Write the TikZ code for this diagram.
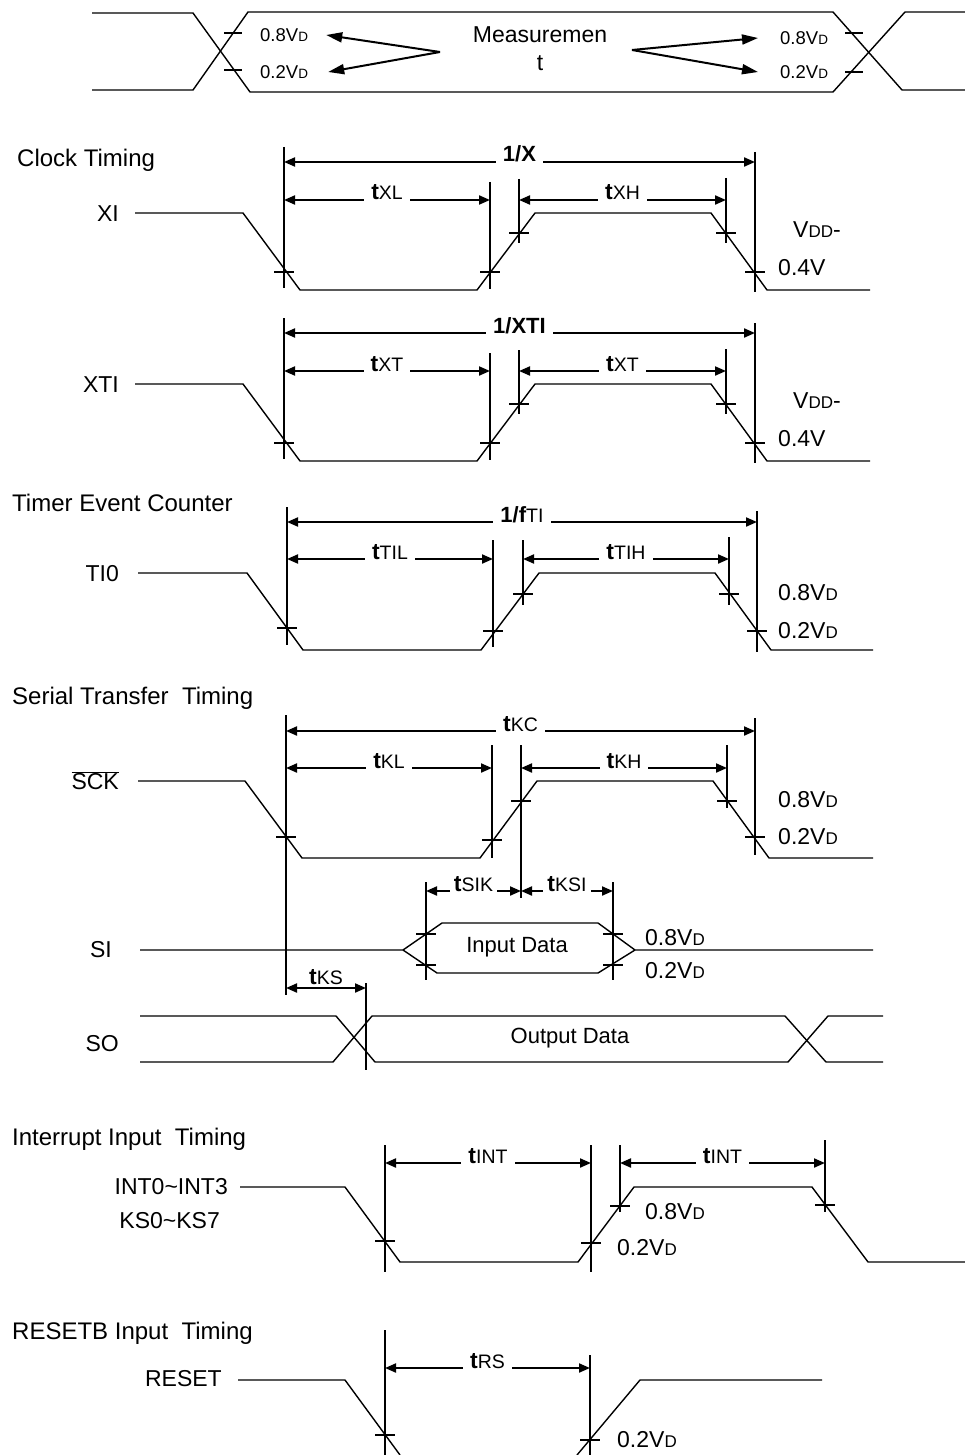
\documentclass[tikz,border=0pt]{standalone}
\usepackage{fontspec}
\setmainfont{Liberation Sans}
\usetikzlibrary{arrows.meta}

\newcommand{\fsz}[1]{\fontsize{#1}{#1}\selectfont}
\newcommand{\tdim}[1]{{\fsz{23}\textbf{t}}{\fsz{19.5}#1}}
\newcommand{\vlev}[1]{#1V{\fsz{17}D}}
\newcommand{\vlevs}[1]{{\fsz{18.5}#1V{\fsz{13.5}D}}}
\newcommand{\vddm}{V{\fsz{17}DD}-}

\tikzset{
  wave/.style={line width=1.4pt},
  guide/.style={line width=1.3pt},
  levmark/.style={line width=1.3pt},
  dimarrow/.style={line width=2pt, {Triangle[length=11pt,width=9pt]}-{Triangle[length=11pt,width=9pt]}},
  ptr/.style={line width=2pt, -{Triangle[length=16pt,width=10pt]}},
  dimtext/.style={fill=white, anchor=base, inner xsep=7pt, inner ysep=3pt, font=\fsz{22}},
  title/.style={anchor=west, inner sep=0pt, font=\fsz{24}},
  signame/.style={anchor=east, inner sep=0pt, font=\fsz{23}},
  level/.style={anchor=west, inner sep=0pt, font=\fsz{23}},
}

\begin{document}
\begin{tikzpicture}[x=1pt,y=-1pt]
  \useasboundingbox (0,0) rectangle (965,1455);

  % Measurement levels
  \draw[wave] (92,13) -- (193,13) -- (250,92) -- (833,92) -- (905,12) -- (965,12);
  \draw[wave] (92,90) -- (193,90) -- (248,12) -- (833,12) -- (902,90) -- (965,90);
  \foreach \tx/\ty in {233/33, 233/70, 854/33, 854/72}
    \draw[levmark] (\tx-9,\ty) -- (\tx+9,\ty);
  \node[level, font=\fsz{18.5}] (lhi) at (260,35) {\vlevs{0.8}};
  \node[level, font=\fsz{18.5}] (llo) at (260,72) {\vlevs{0.2}};
  \node[level, font=\fsz{18.5}] (rhi) at (780,38) {\vlevs{0.8}};
  \node[level, font=\fsz{18.5}] (rlo) at (780,72) {\vlevs{0.2}};
  \node[font=\fsz{23}] (meas) at (540,35) {Measuremen};
  \node[font=\fsz{23}] (meast) at (540,63) {t};
  \coordinate (mL) at (440,52);
  \coordinate (mR) at (632,50);
  \draw[ptr] (mL) -- ([xshift=18pt]lhi.east);
  \draw[ptr] (mL) -- ([xshift=20pt]llo.east);
  \draw[ptr] (mR) -- ([xshift=-22pt]rhi.west);
  \draw[ptr] (mR) -- ([xshift=-22pt]rlo.west);

  % Clock timing
  \node[title] (tclock) at (17,160) {Clock Timing};
  \node[signame] (xi) at (119,214) {XI};
  \draw[wave] (135,213) -- (243,213) -- (300,290) -- (477,290) -- (535,213) -- (711,213) -- (767,290) -- (870,290);
  \draw[guide] (284,147) -- (284,288);
  \draw[guide] (490,182) -- (490,289);
  \draw[guide] (519,179) -- (519,243);
  \draw[guide] (726,178) -- (726,243);
  \draw[guide] (755,152) -- (755,292);
  \draw[dimarrow] (284,162) -- node[dimtext] (fx) {\textbf{1/X}} (755,162);
  \draw[dimarrow] (284,200) -- node[dimtext] (txl) {\tdim{XL}} (490,200);
  \draw[dimarrow] (519,200) -- node[dimtext] (txh) {\tdim{XH}} (726,200);
  \node[level] (xivdd) at (793,230) {\vddm};
  \node[level] (xiv) at (778,268) {0.4V};

  % XTI
  \node[signame] (xti) at (119,385) {XTI};
  \draw[wave] (135,384) -- (243,384) -- (300,461) -- (477,461) -- (535,384) -- (711,384) -- (767,461) -- (870,461);
  \draw[guide] (284,318) -- (284,459);
  \draw[guide] (490,353) -- (490,460);
  \draw[guide] (519,350) -- (519,414);
  \draw[guide] (726,349) -- (726,414);
  \draw[guide] (755,323) -- (755,463);
  \draw[dimarrow] (284,333) -- node[dimtext] (fxt) {\textbf{1/XTI}} (755,333);
  \draw[dimarrow] (284,371) -- node[dimtext] (txtl) {\tdim{XT}} (490,371);
  \draw[dimarrow] (519,371) -- node[dimtext] (txth) {\tdim{XT}} (726,371);
  \node[level] (xtivdd) at (793,401) {\vddm};
  \node[level] (xtiv) at (778,439) {0.4V};

  % Timer event counter
  \node[title] (ttimer) at (12,503) {Timer Event Counter};
  \node[signame] (ti0) at (119,574) {TI0};
  \draw[wave] (138,573) -- (247,573) -- (303,650) -- (481,650) -- (539,573) -- (715,573) -- (771,650) -- (873,650);
  \draw[guide] (287,507) -- (287,645);
  \draw[guide] (493,540) -- (493,647);
  \draw[guide] (523,540) -- (523,605);
  \draw[guide] (729,537) -- (729,605);
  \draw[guide] (757,511) -- (757,652);
  \draw[dimarrow] (287,522) -- node[dimtext] (fti) {\textbf{1/f}{\fsz{19.5}TI}} (757,522);
  \draw[dimarrow] (287,559) -- node[dimtext] (ttil) {\tdim{TIL}} (493,559);
  \draw[dimarrow] (523,559) -- node[dimtext] (ttih) {\tdim{TIH}} (729,559);
  \node[level] (tihi) at (778,593) {\vlev{0.8}};
  \node[level] (tilo) at (778,631) {\vlev{0.2}};

  % Serial transfer
  \node[title] (tserial) at (12,698) {Serial Transfer~ Timing};
  \node[signame] (sck) at (119,781) {$\overline{\hbox{SCK}}$};
  \draw[wave] (138,781) -- (245,781) -- (302,858) -- (480,858) -- (537,781) -- (713,781) -- (769,858) -- (873,858);
  \draw[guide] (286,715) -- (286,995);
  \draw[guide] (492,745) -- (492,858);
  \draw[guide] (521,745) -- (521,898);
  \draw[guide] (727,745) -- (727,808);
  \draw[guide] (755,718) -- (755,855);
  \draw[dimarrow] (286,731) -- node[dimtext] (tkc) {\tdim{KC}} (755,731);
  \draw[dimarrow] (286,768) -- node[dimtext] (tkl) {\tdim{KL}} (492,768);
  \draw[dimarrow] (521,768) -- node[dimtext] (tkh) {\tdim{KH}} (727,768);
  \node[level] (sckhi) at (778,800) {\vlev{0.8}};
  \node[level] (scklo) at (778,837) {\vlev{0.2}};

  % SI
  \node[signame] (si) at (112,950) {SI};
  \draw[wave] (140,950) -- (403,950) -- (442,923) -- (598,923) -- (635,950) -- (873,950);
  \draw[wave] (403,950) -- (437,973) -- (598,973) -- (635,950);
  \node[font=\fsz{22}] (indata) at (517,947) {Input Data};
  \draw[guide] (426,882) -- (426,980);
  \draw[guide] (613,882) -- (613,980);
  \draw[dimarrow] (426,891) -- node[dimtext, inner xsep=4pt] (tsik) {\tdim{SIK}} (521,891);
  \draw[dimarrow] (521,891) -- node[dimtext, inner xsep=4pt] (tksi) {\tdim{KSI}} (613,891);
  \node[level] (sihi) at (645,938) {\vlev{0.8}};
  \node[level] (silo) at (645,971) {\vlev{0.2}};

  % SO
  \node[signame] (so) at (119,1044) {SO};
  \draw[wave] (140,1016) -- (336,1016) -- (375,1062) -- (788,1062) -- (828,1016) -- (883,1016);
  \draw[wave] (140,1062) -- (333,1062) -- (372,1016) -- (785,1016) -- (826,1062) -- (883,1062);
  \node[font=\fsz{22}] (outdata) at (570,1038) {Output Data};
  \draw[guide] (366,983) -- (366,1070);
  \draw[dimarrow] (286,988) -- node[above, font=\fsz{22}, inner sep=2pt] (tks) {\tdim{KS}} (366,988);

  % Level ticks
  \foreach \tx/\ty in {284/272, 490/272, 519/233, 726/233, 755/272,
                       284/443, 490/443, 519/404, 726/404, 755/443,
                       287/628, 493/631, 523/594, 729/594, 757/631,
                       286/837, 492/840, 521/801, 727/801, 755/837,
                       426/934, 426/965, 613/934, 613/965}
    \draw[levmark] (\tx-10,\ty) -- (\tx+10,\ty);

  % Interrupt input
  \node[title] (tint) at (12,1139) {Interrupt Input~ Timing};
  \node[signame] (int) at (228,1187) {INT0\char`~INT3};
  \node[signame] (ks) at (220,1221) {KS0\char`~KS7};
  \draw[wave] (240,1187) -- (345,1187) -- (400,1262) -- (578,1262) -- (634,1187) -- (812,1187) -- (868,1262) -- (965,1262);
  \draw[guide] (385,1145) -- (385,1272);
  \draw[guide] (591,1145) -- (591,1272);
  \draw[guide] (620,1145) -- (620,1212);
  \draw[guide] (825,1140) -- (825,1212);
  \draw[dimarrow] (385,1163) -- node[dimtext] (tint1) {\tdim{INT}} (591,1163);
  \draw[dimarrow] (620,1163) -- node[dimtext] (tint2) {\tdim{INT}} (825,1163);
  \foreach \tx/\ty in {385/1241, 591/1243, 620/1206, 825/1205}
    \draw[levmark] (\tx-10,\ty) -- (\tx+10,\ty);
  \node[level] (inthi) at (645,1212) {\vlev{0.8}};
  \node[level] (intlo) at (617,1248) {\vlev{0.2}};

  % Reset input
  \node[title] (treset) at (12,1333) {RESETB Input~ Timing};
  \node[signame] (reset) at (222,1379) {RESET};
  \draw[wave] (238,1380) -- (345,1380) -- (400,1455);
  \draw[wave] (577,1455) -- (640,1380) -- (822,1380);
  \draw[guide] (385,1330) -- (385,1455);
  \draw[guide] (590,1355) -- (590,1455);
  \draw[dimarrow] (385,1368) -- node[dimtext] (trs) {\tdim{RS}} (590,1368);
  \foreach \tx/\ty in {385/1435, 590/1440}
    \draw[levmark] (\tx-10,\ty) -- (\tx+10,\ty);
  \node[level] (rstlo) at (617,1440) {\vlev{0.2}};
\end{tikzpicture}
\end{document}
